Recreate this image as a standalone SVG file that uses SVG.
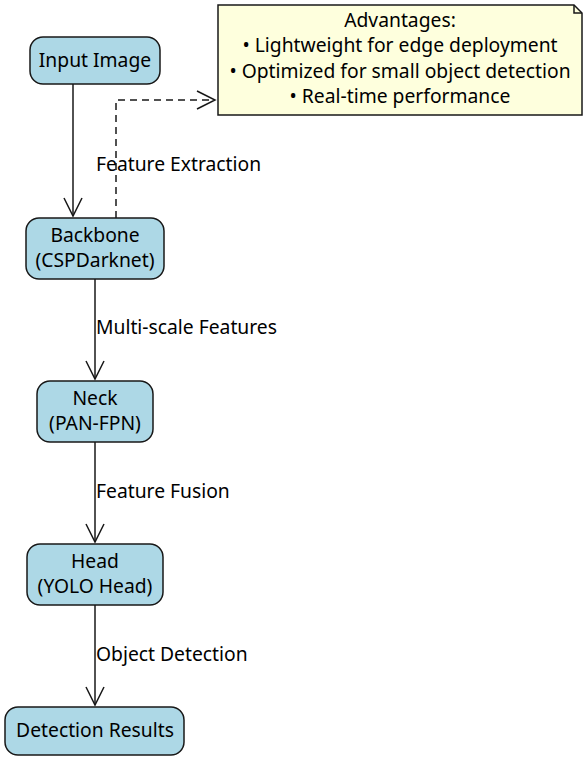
<svg xmlns="http://www.w3.org/2000/svg" width="588" height="761" viewBox="0 0 588 761">
<style>
.node{fill:#ADD8E6;stroke:#181818;stroke-width:1.5}
.note{fill:#FEFFDD;stroke:#181818;stroke-width:1.5}
text{font-family:"Noto Sans","Open Sans","DejaVu Sans",sans-serif;font-size:19.3px;fill:#000}
.c{text-anchor:middle}
.edge{stroke:#181818;stroke-width:1.5;fill:none}
.dash{stroke-dasharray:7,5}
</style>
<rect width="588" height="761" fill="#fff"/>
<g id="connectors">
<path class="edge" d="M73,84 V216"/>
<path class="edge" d="M64,198 L73,216 L82,198"/>
<path class="edge dash" d="M116,218 V100 H214"/>
<path class="edge" d="M197,91 L215,100 L197,109"/>
<path class="edge" d="M95,279 V379"/>
<path class="edge" d="M86,361 L95,379 L104,361"/>
<path class="edge" d="M95,442 V542"/>
<path class="edge" d="M86,524 L95,542 L104,524"/>
<path class="edge" d="M95,605 V705"/>
<path class="edge" d="M86,687 L95,705 L104,687"/>
<text x="96" y="171">Feature Extraction</text>
<text x="96" y="334">Multi-scale Features</text>
<text x="96" y="498">Feature Fusion</text>
<text x="96" y="661">Object Detection</text>
</g>
<g id="note">
<path class="note" d="M218,5 H574 L582,13 V115 H218 Z"/>
<path class="edge" d="M574,5 V13 H582"/>
<text class="c" x="400" y="27">Advantages:</text>
<text class="c" x="400" y="52">• Lightweight for edge deployment</text>
<text class="c" x="400" y="78">• Optimized for small object detection</text>
<text class="c" x="400" y="103">• Real-time performance</text>
</g>
<g id="input"><rect class="node" x="30" y="37" width="130" height="47" rx="13"/><text class="c" x="95" y="67">Input Image</text></g>
<g id="backbone"><rect class="node" x="26" y="218" width="138" height="61" rx="13"/><text class="c" x="95" y="242">Backbone</text><text class="c" x="95" y="267">(CSPDarknet)</text></g>
<g id="neck"><rect class="node" x="37" y="381" width="116" height="61" rx="13"/><text class="c" x="95" y="405">Neck</text><text class="c" x="95" y="430">(PAN-FPN)</text></g>
<g id="head"><rect class="node" x="27" y="544" width="136" height="61" rx="13"/><text class="c" x="95" y="568">Head</text><text class="c" x="95" y="593">(YOLO Head)</text></g>
<g id="results"><rect class="node" x="5" y="707" width="179" height="48" rx="13"/><text class="c" x="95" y="737">Detection Results</text></g>
</svg>
